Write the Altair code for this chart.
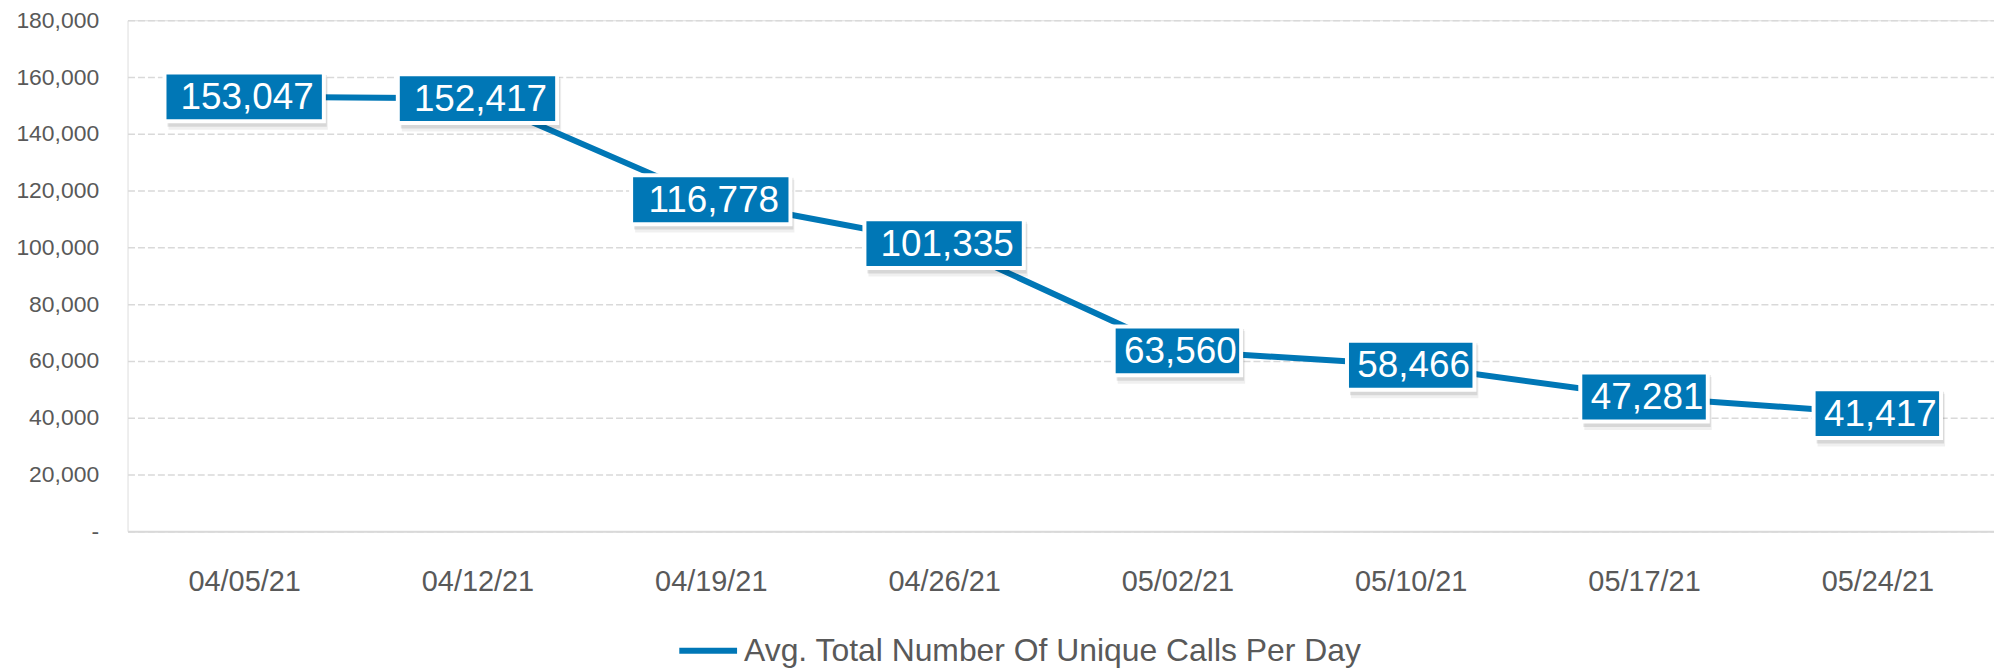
import altair as alt
import pandas as pd

dates = ["04/05/21", "04/12/21", "04/19/21", "04/26/21", "05/02/21", "05/10/21", "05/17/21", "05/24/21"]
calls = [153047, 152417, 116778, 101335, 63560, 58466, 47281, 41417]
series_name = "Avg. Total Number Of Unique Calls Per Day"
y_ticks = [0, 20000, 40000, 60000, 80000, 100000, 120000, 140000, 160000, 180000]

df = pd.DataFrame({"date": dates, "calls": calls, "series": [series_name] * len(dates)})

BLUE = "#0077B6"
GREY = "#595959"
FONT = "Liberation Sans"

x_enc = alt.X("date:O", sort=dates, scale=alt.Scale(type="point", padding=0.5),
              axis=alt.Axis(title=None, labelAngle=0, labelFontSize=29, labelColor=GREY,
                            labelFont=FONT, ticks=False, labelPadding=37,
                            domain=True, domainColor="#D9D9D9", domainWidth=2, grid=False))
y_enc = alt.Y("calls:Q", scale=alt.Scale(domain=[0, 180000], nice=False, zero=True),
              axis=alt.Axis(title=None, values=y_ticks, labelFontSize=23, labelColor=GREY,
                            labelFont=FONT, ticks=False, domain=False, labelPadding=29,
                            grid=True, gridColor="#D9D9D9", gridDash=[7, 3], gridWidth=1.5,
                            labelExpr="datum.value == 0 ? '-\u00a0\u00a0' : format(datum.value, ',')"))

base = alt.Chart(df)

line = base.mark_line(strokeWidth=6).encode(
    x=x_enc, y=y_enc,
    color=alt.Color("series:N", scale=alt.Scale(range=[BLUE]),
                    legend=alt.Legend(title=None, orient="none", legendX=551, legendY=601,
                                      symbolType="stroke", symbolStrokeWidth=6, symbolSize=3364,
                                      labelFontSize=32, labelColor=GREY, labelFont=FONT,
                                      labelOffset=4, labelLimit=1000, symbolStrokeColor=BLUE)),
)

boxed = base.transform_calculate(
    label="format(datum.calls, ',')"
).transform_calculate(
    boxw="32 * length(datum.label) - 64"
)

shadow = boxed.mark_bar(color="#000000", opacity=0.10, yOffset=-22, y2Offset=30, xOffset=3, x2Offset=3).encode(
    x=alt.X("date:O", sort=dates), y="calls:Q", y2="calls:Q",
    size=alt.Size("boxw:Q", scale=None, legend=None),
)
shadow2 = boxed.mark_bar(color="#000000", opacity=0.06, yOffset=-20, y2Offset=33, xOffset=4, x2Offset=4).encode(
    x=alt.X("date:O", sort=dates), y="calls:Q", y2="calls:Q",
    size=alt.Size("boxw:Q", scale=None, legend=None),
)

box = boxed.mark_bar(color=BLUE, stroke="white", strokeWidth=4, yOffset=-24.5, y2Offset=24.5).encode(
    x=alt.X("date:O", sort=dates), y="calls:Q", y2="calls:Q",
    size=alt.Size("boxw:Q", scale=None, legend=None),
)

text = boxed.mark_text(color="white", fontSize=37, font=FONT, align="center", baseline="middle", dx=3, dy=1).encode(
    x=alt.X("date:O", sort=dates), y="calls:Q", text="label:N",
)

chart = alt.layer(line, shadow2, shadow, box, text).properties(
    width=1874, height=513,
    autosize=alt.AutoSizeParams(type="none"),
    padding={"left": 120, "top": 11, "right": 0, "bottom": 136},
).configure_view(stroke=None).configure(background="white")

chart.save("out.html", embed_options={"renderer": "svg", "actions": False})
